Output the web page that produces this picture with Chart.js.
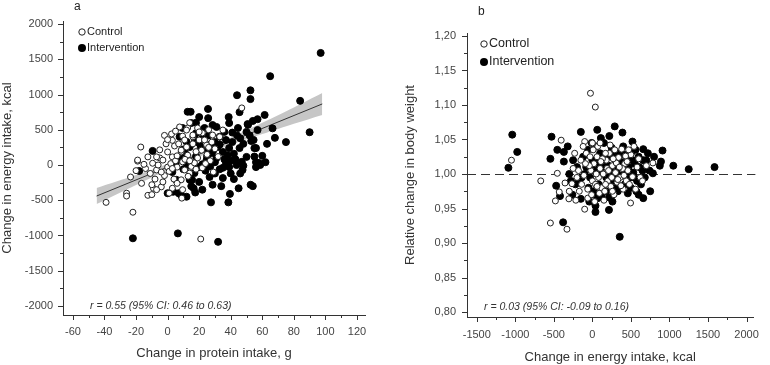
<!DOCTYPE html>
<html>
<head>
<meta charset="utf-8">
<script src="https://cdn.jsdelivr.net/npm/chart.js@4.4.1/dist/chart.umd.min.js"></script>
<style>
  html, body { margin: 0; padding: 0; background: #fff; }
  #wrap { position: relative; width: 770px; height: 365px; }
  canvas { position: absolute; top: 0; }
  #chartA { left: 0; }
  #chartB { left: 390px; }
</style>
</head>
<body>
<div id="wrap">
  <canvas id="chartA" width="390" height="365"></canvas>
  <canvas id="chartB" width="380" height="365"></canvas>
</div>
<script>
// ---- panel a: change in protein intake (g) vs change in energy intake (kcal)
const controlA = [
  [-39,-530],[-26,-400],[-26,-440],[-22,-670],[21,-1050],[47,810],[-23.5,-170],[-19,55],[-17,255],
  [-12.5,115],[-5,215],[2.5,440],[-16.5,-260],[-12.5,-430],[-10,-420],[-9,-330],[-4,-310],[-7,-350],
  [-10,-280],[9,-470],[-19,70],[-9.5,25],[-7,-70],[-5,100],[0,-30],
  [7.6,540],[12.7,525],[19,525],[22,455],[16,400],[9.5,410],[4.4,270],[0,185],[-7,115],[-3,70],
  [3,115],[8.6,185],[12,255],[20,355],[24.7,285],[28.5,425],[33,400],[12,496],[16,425],[10.8,355],
  [8.6,210],[12.7,140],[21.5,210],[23.4,355],[19,100],[9.5,45],[10.8,-70],[14,-115],[8.6,-210],
  [9.5,-350],[35,496],[28,325],[22,-40],[-2,-150],[1,-90],[4,-200],[6,-260],[2,20],[5,60],[-1,300],
  [3,350],[6,130],[15,-20],[17,30],[18,190],[25,150],[27,60],[30,230],[26,500],[14,600],[-14,-50],
  [-15,10],[-11,-120],[-8,-200],[-3,-240],[6,-30],[11,80],[16,300],[3,-330],[-20,-80],[29,-100],
  [32,120],[24,20],[5,480],[13,-160],[1,-400],
  [-2,420],[7,300],[0,360],[-4,-100],[14,60],[18,-60],[26,250],[20,470],[3,-50],[-6,0]
];
const interventionA = [
  [97,1590],[65,1260],[84,910],[90,465],[75,325],[68,385],[66.5,520],[52.5,1060],[52.5,935],[44,990],
  [45.6,750],[14.6,755],[12.7,755],[25.6,795],[54,625],[61.5,710],[57,650],[51,570],[38.7,680],
  [25.7,665],[58.7,0],[56,40],[47,45],[56,240],[54.5,355],[-9.5,200],[-22,-1040],[6.5,-970],
  [32,-1090],[54,-300],[39.5,-410],[38.5,-530],[27.5,-530],[17.5,-390],[16.5,-330],[12,-450],
  [0,-400],[3.5,-380],[7,-400],[5.5,-210],[15.5,-210],[-18,-85],
  [28.5,567],[39,595],[50.7,580],[57,496],[44.6,525],[53,340],[55,240],[58,28],[56,-30],[52.6,-280],
  [47.5,-70],[43.7,0],[39,-30],[38,140],[35,185],[31.7,255],[29.8,325],[33,400],[37,355],[41,325],
  [45.6,240],[50,115],[28,170],[24.7,70],[20,-30],[17,-115],[14,-210],[8.6,-430],[28.5,-280],
  [35,-185],[26.6,-170],[20,-240],[11,170],[14,255],[20,310],[18,450],[23.4,525],[9.5,525],[15,595],
  [7.6,400],[12,28],[18,600],[20,680],[22,10],[10,-60],[13,-10],[8,90],[30,40],[33,-60],[36,80],
  [42,160],[48,300],[44,420],[36,470],[31,540],[26,420],[24,230],[18,120],[5,20],[3,-100],[42,-200],
  [46,-120],[60,130],[63,300],[48,-10],[30,-120],[24,-80],[34,-300],[45,-330],[62,40],[52,420],
  [40,60],[27,290],[22,380],
  [25,120],[29,210],[33,290],[37,20],[40,-120],[35,-40],[31,100],[27,-20],[43,80],[46,380],
  [39,240],[21,250],[17,380],[12,330],[10,220],[15,-300],[22,-350],[50,470],[55,120],[41,460]
];
// regression line and its 95% band
const fitXA = [-45, 98];
const fitYA = [-440, 866];
const bandXA = [-45, -20, 0, 20, 40, 60, 80, 98];
const bandLoA = [-555, -282, -74, 116, 286, 439, 586, 711];
const bandHiA = [-325, -142, 16, 192, 386, 599, 816, 1021];

const xTicksA = [-60, -40, -20, 0, 20, 40, 60, 80, 100, 120];
const xMinorA = [-50, -30, -10, 10, 30, 50, 70, 90, 110];
const yTicksA = [-2000, -1500, -1000, -500, 0, 500, 1000, 1500, 2000];
const yMinorA = [-1750, -1250, -750, -250, 250, 750, 1250, 1750];

// ---- panel b: change in energy intake (kcal) vs relative change in body weight
const controlB = [
  [-25,1.117],[38,1.097],[-1050,1.020],[-405,1.049],[-100,1.047],[785,1.016],[-455,1.001],
  [-545,0.929],[-330,0.920],[-480,0.961],[-430,0.974],[-305,0.964],[-215,0.962],[-100,0.949],
  [495,0.958],[-670,0.990],[-265,0.986],[-355,0.987],[90,0.972],
  [-150,1.020],[-80,1.030],[-20,1.005],[20,1.015],[60,1.025],[100,1.008],[140,1.000],[180,1.020],
  [220,1.030],[260,1.012],[300,1.002],[340,1.024],[380,1.036],[420,1.015],[460,1.005],[500,1.028],
  [540,1.040],[580,1.010],[620,0.995],[-200,0.995],[-140,0.985],[-60,0.978],[0,0.990],[40,0.985],
  [80,0.995],[120,0.980],[160,0.975],[200,0.990],[240,0.982],[280,0.970],[320,0.988],[360,0.995],
  [400,0.978],[440,0.990],[480,0.985],[520,0.996],[-250,1.008],[-180,1.005],[-110,0.998],
  [-40,1.012],[10,1.035],[70,1.040],[130,1.022],[190,1.008],[250,0.995],[310,1.016],[370,0.983],
  [430,1.026],[600,1.022],[650,0.990],[-60,0.965],[30,0.960],[150,0.962],[260,0.975],[-120,1.040],
  [-300,0.975],[700,1.012],[560,0.978],
  [-90,1.015],[-30,1.025],[50,1.000],[110,1.018],[170,1.030],[210,1.005],[270,1.022],[330,0.992],
  [390,1.008],[450,1.018],[-170,0.975],[-230,1.030],[0,1.045],[230,1.042],[290,1.035],[350,1.010],
  [410,0.998],[470,1.035],[-10,0.970],[60,0.982],[170,0.985],[100,1.045]
];
const interventionB = [
  [-1040,1.057],[-975,1.032],[-1090,1.009],[-530,1.054],[-545,1.022],[-150,1.061],[63,1.064],
  [290,1.069],[390,1.060],[520,1.047],[910,1.034],[1050,1.012],[1250,1.007],[1585,1.010],
  [890,1.018],[875,1.012],[785,1.001],[660,1.036],[-455,1.035],[-370,1.032],[-370,1.018],
  [-380,0.930],[355,0.909],[-420,0.968],[-470,0.983],[-150,0.964],[40,0.954],[40,0.945],
  [215,0.948],[660,0.965],[750,0.975],[570,0.975],[460,0.972],[215,0.966],[15,0.970],
  [-200,1.010],[-120,1.025],[-60,1.035],[0,1.020],[50,1.040],[100,1.030],[150,1.045],[200,1.025],
  [250,1.038],[300,1.020],[350,1.030],[400,1.040],[450,1.022],[500,1.030],[550,1.015],[600,1.025],
  [650,1.005],[700,1.020],[-250,1.020],[-180,0.990],[-100,1.000],[-30,0.995],[30,1.005],[80,0.985],
  [130,1.010],[180,0.995],[230,1.005],[280,0.990],[330,1.008],[380,0.998],[430,1.000],[480,0.995],
  [530,1.002],[580,0.990],[630,0.985],[680,0.995],[-50,0.980],[120,0.970],[330,0.975],[500,0.980],
  [-300,1.000],[720,1.030],[800,1.025],[20,0.975],[260,0.960],[-10,1.045],
  [-220,0.985],[-80,1.010],[-140,0.995],[-20,1.010],[60,1.015],[90,1.000],[160,1.020],[210,1.012],
  [260,1.028],[310,1.000],[360,1.018],[410,1.028],[470,1.010],[520,1.020],[560,1.035],[610,1.010],
  [660,1.020],[740,1.005],[-40,0.960],[70,0.965],[180,0.975],[300,0.980],[420,0.985],[540,0.995],
  [600,0.970],[-260,0.970],[110,1.052],[220,1.055],[-320,1.040],[-280,0.990]
];
const refLineB = 1.00;

const xTicksB = [-1500, -1000, -500, 0, 500, 1000, 1500, 2000];
const xMinorB = [-1250, -750, -250, 250, 750, 1250, 1750];
const yTicksB = [0.80, 0.85, 0.90, 0.95, 1.00, 1.05, 1.10, 1.15, 1.20];
const yMinorB = [0.825, 0.875, 0.925, 0.975, 1.025, 1.075, 1.125, 1.175];

const FONT = "'Liberation Sans', Arial, sans-serif";
const tickFont = { family: FONT, size: 11 };
const titleFont = { family: FONT, size: 13 };

function pts(arr) { return arr.map(([x, y]) => ({ x, y })); }
function zipXY(xs, ys) { return xs.map((x, i) => ({ x, y: ys[i] })); }
function fixTicks(values) {
  return scale => { scale.ticks = values.map(v => ({ value: v })); };
}

// major/minor tick marks pointing out of the plot, like the original
const tickMarks = {
  id: 'tickMarks',
  afterDraw(chart, args, opts) {
    const { ctx, scales: { x, y } } = chart;
    ctx.save();
    ctx.strokeStyle = '#333';
    ctx.lineWidth = 1;
    ctx.beginPath();
    const drawX = (vals, len) => vals.forEach(v => {
      const px = Math.round(x.getPixelForValue(v)) + 0.5;
      ctx.moveTo(px, x.top); ctx.lineTo(px, x.top + len);
    });
    const drawY = (vals, len) => vals.forEach(v => {
      const py = Math.round(y.getPixelForValue(v)) + 0.5;
      ctx.moveTo(y.right, py); ctx.lineTo(y.right - len, py);
    });
    drawX(opts.xMajor, 5); drawX(opts.xMinor, 3);
    drawY(opts.yMajor, 5); drawY(opts.yMinor, 3);
    ctx.stroke();
    ctx.restore();
  }
};

// dashed reference line (panel b)
const refLine = {
  id: 'refLine',
  beforeDatasetsDraw(chart, args, opts) {
    if (opts.value == null) return;
    const { ctx, chartArea, scales: { y } } = chart;
    const py = Math.round(y.getPixelForValue(opts.value)) + 0.5;
    ctx.save();
    ctx.strokeStyle = '#333';
    ctx.lineWidth = 1;
    ctx.setLineDash([9, 5]);
    ctx.beginPath();
    ctx.moveTo(chartArea.left, py);
    ctx.lineTo(chartArea.right + 2, py);
    ctx.stroke();
    ctx.restore();
  }
};

// panel letter, legend, correlation note
const overlay = {
  id: 'overlay',
  afterDraw(chart, args, o) {
    const { ctx } = chart;
    ctx.save();
    ctx.fillStyle = '#222';
    ctx.textBaseline = 'middle';
    ctx.font = `12px ${FONT}`;
    ctx.fillText(o.letter, o.letterAt[0], o.letterAt[1]);

    ctx.font = `${o.legendSize}px ${FONT}`;
    o.legend.forEach((label, i) => {
      const cx = o.legendAt[0], cy = o.legendAt[1] + i * o.legendGap;
      ctx.beginPath();
      if (i === 0) {
        ctx.arc(cx, cy, 3.2, 0, Math.PI * 2);
        ctx.fillStyle = '#fff'; ctx.fill();
        ctx.strokeStyle = '#222'; ctx.lineWidth = 1; ctx.stroke();
      } else {
        ctx.arc(cx, cy, 4, 0, Math.PI * 2);
        ctx.fillStyle = '#000'; ctx.fill();
      }
      ctx.fillStyle = '#222';
      ctx.fillText(label, cx + 5, cy);
    });

    ctx.font = `italic 10.5px ${FONT}`;
    ctx.fillStyle = '#333';
    ctx.fillText(o.note, o.noteAt[0], o.noteAt[1]);
    ctx.restore();
  }
};

function makePanel(id, p) {
  const datasets = [
    {
      label: 'Control', data: pts(p.control), type: 'scatter',
      pointRadius: 3, pointBorderWidth: 1, backgroundColor: '#fff', borderColor: '#222'
    },
    {
      label: 'Intervention', data: pts(p.intervention), type: 'scatter',
      pointRadius: 3.5, pointBorderWidth: 1, backgroundColor: '#000', borderColor: '#000'
    }
  ];
  if (p.fit) {
    datasets.push(
      { type: 'line', data: zipXY(p.fit[0], p.fit[1]), borderColor: '#333', borderWidth: 1, pointRadius: 0, fill: false },
      { type: 'line', data: zipXY(p.band[0], p.band[2]), borderWidth: 0, pointRadius: 0, tension: 0.3, fill: '+1', backgroundColor: '#c6c6c6' },
      { type: 'line', data: zipXY(p.band[0], p.band[1]), borderWidth: 0, pointRadius: 0, tension: 0.3, fill: false }
    );
  }
  return new Chart(document.getElementById(id), {
    type: 'scatter',
    data: { datasets },
    plugins: [tickMarks, refLine, overlay],
    options: {
      responsive: false,
      animation: false,
      events: [],
      layout: { padding: p.padding },
      plugins: {
        legend: { display: false },
        tooltip: { enabled: false },
        tickMarks: { xMajor: p.xTicks, xMinor: p.xMinor, yMajor: p.yTicks, yMinor: p.yMinor },
        refLine: { value: p.ref },
        overlay: p.overlay
      },
      scales: {
        x: {
          type: 'linear', min: p.xRange[0], max: p.xRange[1],
          afterBuildTicks: fixTicks(p.xTicks),
          afterFit: s => { s.height = p.xHeight; },
          grid: { display: false, drawTicks: false },
          border: { color: '#333', width: 1 },
          ticks: { color: '#444', font: tickFont, padding: p.xPad, maxRotation: 0, autoSkip: false, callback: v => String(v) },
          title: { display: true, text: p.xTitle, color: '#333', font: titleFont, padding: { top: 0, bottom: p.xTitlePad } }
        },
        y: {
          type: 'linear', min: p.yRange[0], max: p.yRange[1],
          afterBuildTicks: fixTicks(p.yTicks),
          afterFit: s => { s.width = p.yWidth; },
          grid: { display: false, drawTicks: false },
          border: { color: '#333', width: 1 },
          ticks: { color: '#444', font: tickFont, padding: p.yPad, autoSkip: false, callback: p.yFmt },
          title: { display: true, text: p.yTitle, color: '#333', font: titleFont, padding: { top: p.yTitlePad, bottom: 0 } }
        }
      }
    }
  });
}

makePanel('chartA', {
  control: controlA, intervention: interventionA,
  fit: [fitXA, fitYA], band: [bandXA, bandLoA, bandHiA],
  xTicks: xTicksA, xMinor: xMinorA, yTicks: yTicksA, yMinor: yMinorA,
  xRange: [-66.3, 125.1], yRange: [-2128, 2043],
  padding: { top: 21, right: 25, left: 0, bottom: 0 },
  xHeight: 50, yWidth: 63, xPad: 10, yPad: 10, xTitlePad: 4, yTitlePad: 0,
  xTitle: 'Change in protein intake, g', yTitle: 'Change in energy intake, kcal',
  yFmt: v => String(v),
  overlay: {
    letter: 'a', letterAt: [74, 7],
    legend: ['Control', 'Intervention'], legendAt: [82, 32], legendGap: 16, legendSize: 11,
    note: 'r = 0.55 (95% CI: 0.46 to 0.63)', noteAt: [90, 306]
  }
});

makePanel('chartB', {
  control: controlB, intervention: interventionB, ref: refLineB,
  xTicks: xTicksB, xMinor: xMinorB, yTicks: yTicksB, yMinor: yMinorB,
  xRange: [-1627, 2089], yRange: [0.7928, 1.2043],
  padding: { top: 33, right: 10, left: 0, bottom: 0 },
  xHeight: 48, yWidth: 77, xPad: 11, yPad: 11, xTitlePad: 0, yTitlePad: 13,
  xTitle: 'Change in energy intake, kcal', yTitle: 'Relative change in body weight',
  yFmt: v => v.toFixed(2).replace('.', ','),
  overlay: {
    letter: 'b', letterAt: [88, 12],
    legend: ['Control', 'Intervention'], legendAt: [94, 44], legendGap: 18, legendSize: 12.5,
    note: 'r = 0.03 (95% CI: -0.09 to 0.16)', noteAt: [94, 307]
  }
});
</script>
</body>
</html>
